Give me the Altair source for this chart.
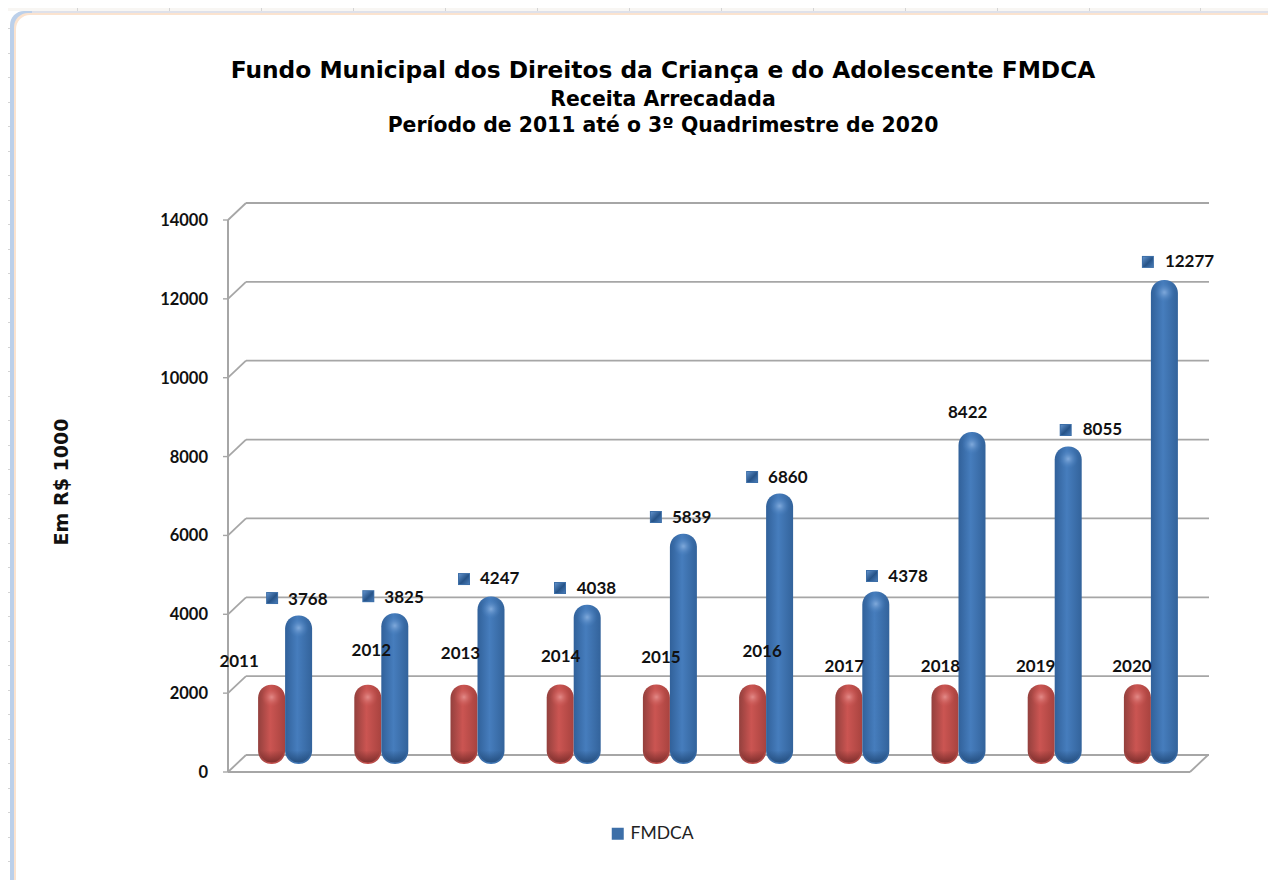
import altair as alt
import pandas as pd

# ---- chart values ----
years = ["2011", "2012", "2013", "2014", "2015", "2016", "2017", "2018", "2019", "2020"]
year_series = [2011, 2012, 2013, 2014, 2015, 2016, 2017, 2018, 2019, 2020]
fmdca = [3768, 3825, 4247, 4038, 5839, 6860, 4378, 8422, 8055, 12277]
y_ticks = [0, 2000, 4000, 6000, 8000, 10000, 12000, 14000]

df = pd.DataFrame({"year": years, "red": year_series, "zero": [0] * 10, "fmdca": fmdca,
                   "series": ["FMDCA"] * 10})
ticks = pd.DataFrame({"v": y_ticks})

# ---- layout: the labels in the original were dragged by hand, so each has its own nudge (px) ----
year_nudge = [(-37, -31), (-1, -42), (-8, -39), (-4, -36), (0, -35), (5, -41),
              (-9, -25), (-9, -25), (-10, -25), (-10, -25)]
value_nudge = [(12, -23), (12, -23), (11.5, -25.5), (12, -24), (11, -24), (11, -23.5),
               (35, -22), (-1.5, -27), (37, -24), (23, -26)]
marker_nudge = [(-4, -25.4), (-4, -25), (-4.5, -25.5), (-4.7, -24.8), (-5, -24.8), (-5, -24.5),
                (18.7, -23.4), None, (20, -24.4), (6, -26)]

W, H = 962, 552
PAD_L, PAD_T = 220, 212
DX, DY = 18, 17          # 3-D depth of the chart box
BAR = 27

x_enc = alt.X("year:N", scale=alt.Scale(paddingInner=0, paddingOuter=0), axis=None)
y_scale = alt.Scale(domain=[0, 14000], nice=False, zero=True)
y_enc = alt.Y("v:Q", scale=y_scale, axis=None)

GRID = "#a6a6a6"
FONT = "Lato"
TITLE_FONT = "DejaVu Sans"

def linear(c0, c1, c2):
    return alt.LinearGradient(gradient="linear", x1=0, x2=1, y1=0, y2=0, stops=[
        alt.GradientStop(offset=0, color=c0),
        alt.GradientStop(offset=0.45, color=c1),
        alt.GradientStop(offset=1, color=c2)])

def radial(inner, outer):
    return alt.RadialGradient(gradient="radial", x1=0.5, y1=0.5, x2=0.5, y2=0.5, r1=0, r2=0.5, stops=[
        alt.GradientStop(offset=0, color=inner),
        alt.GradientStop(offset=1, color=outer)])

def fade_down(clear, dark):
    return alt.LinearGradient(gradient="linear", x1=0, x2=0, y1=0, y2=1, stops=[
        alt.GradientStop(offset=0.5, color=clear),
        alt.GradientStop(offset=1, color=dark)])

# ---- screen decoration: card and the spreadsheet behind it ----
base = alt.Chart(df)
def box(x0, y0, x1, y1, fill, radius=0):
    return alt.Chart(pd.DataFrame({"a": [0]})).mark_rect(fill=fill, cornerRadius=radius).encode(
        x=alt.value(x0 - 8 - PAD_L), x2=alt.value(x1 - 8 - PAD_L),
        y=alt.value(y0 - 8 - PAD_T), y2=alt.value(y1 - 8 - PAD_T))

sheet = [box(8, 8, 1300, 11, "#f8f6f3")]
for yy in [28, 53, 77, 102, 126, 151, 175, 200, 224, 249, 273, 298, 322, 347, 371, 396, 420, 445, 469,
           494, 518, 543, 567, 592, 616, 641, 665, 690, 714, 739, 763, 788, 812, 837, 861]:
    sheet.append(box(8, yy, 14, yy + 1, "#d4d4d4"))
for xx in [77, 169, 261, 353, 445, 537, 629, 721, 813, 905, 997, 1089, 1200]:
    sheet.append(box(xx, 8, xx + 1, 11, "#d4d4d4"))
card = [
    box(10, 11, 1300, 900, "#bcd0ea", 14),
    box(32, 11, 1300, 13, "#dfe1ea"),
    box(14, 13, 1300, 900, "#fbe3cf", 14),
    box(16, 15, 1300, 900, "#ffffff", 14),
]

# ---- 3-D box: grid on back wall, slanted side ----
grid = alt.Chart(ticks).mark_rule(color=GRID, strokeWidth=1.8, yOffset=-DY).encode(
    x=alt.value(DX), x2=alt.value(W + DX + 1), y=y_enc)
slant = alt.Chart(ticks).mark_rule(color=GRID, strokeWidth=1.8, y2Offset=-DY).encode(
    x=alt.value(0), x2=alt.value(DX), y=y_enc, y2="v:Q")
tickm = alt.Chart(ticks).mark_rule(color=GRID, strokeWidth=1.4).encode(
    x=alt.value(-5), x2=alt.value(0), y=y_enc)
front = alt.Chart(pd.DataFrame({"v": [0]})).mark_rule(color=GRID, strokeWidth=2).encode(
    x=alt.value(0), x2=alt.value(W), y=y_enc)
slant_r = alt.Chart(pd.DataFrame({"v": [0]})).mark_rule(color=GRID, strokeWidth=1.8, y2Offset=-DY).encode(
    x=alt.value(W), x2=alt.value(W + DX), y=y_enc, y2="v:Q")
wall = alt.Chart(pd.DataFrame({"v": [0]})).mark_rule(color=GRID, strokeWidth=2).encode(
    x=alt.value(0), y=y_enc, y2=alt.value(0))

# ---- bars ----
def cylinder(field, off, c_edge0, c_mid, c_edge1, c_hi, c_low):
    yq = alt.Y(f"{field}:Q", scale=y_scale, axis=None)
    body = base.mark_bar(size=BAR, cornerRadius=BAR / 2 - 0.5, xOffset=off, yOffset=-8, y2Offset=-8,
                         fill=linear(c_edge0, c_mid, c_edge1)).encode(
        x=x_enc, y=yq, y2="zero:Q")
    hi = base.mark_circle(size=400, xOffset=off, yOffset=-8 + BAR / 2 - 1, opacity=1,
                          fill=radial(c_hi, c_mid + "00")).encode(x=x_enc, y=yq)
    low = base.mark_circle(size=572, xOffset=off, yOffset=-8 - BAR / 2, opacity=1,
                           fill=fade_down(c_low + "00", c_low)).encode(
        x=x_enc, y=alt.Y("zero:Q", scale=y_scale, axis=None))
    return [body, low, hi]

red = cylinder("red", -4.5, "#93403d", "#cb5552", "#a8433f", "#e38c8a", "#7f2f2d")
blue = cylinder("fmdca", 22.5, "#31619a", "#467dbd", "#33639b", "#82abdc", "#254f80")

# ---- data labels, one per year because each sits at its own spot ----
labels = []
legend = alt.Legend(title=None, orient="none", legendX=609 - 8 - PAD_L, legendY=825 - 8 - PAD_T,
                    symbolType="square", symbolSize=144, labelFont=FONT, labelFontSize=17.5,
                    labelColor="#222222", labelOffset=4)
square_fill = alt.LinearGradient(gradient="linear", x1=0, x2=1, y1=0, y2=1, stops=[
    alt.GradientStop(offset=0, color="#6a9ad4"),
    alt.GradientStop(offset=0.55, color="#1f4a7d"),
    alt.GradientStop(offset=1, color="#4a7ebb")])
for i, y in enumerate(years):
    one = base.transform_filter(alt.datum.year == y)
    nx, ny = year_nudge[i]
    labels.append(one.mark_text(font=FONT, fontSize=17, fontWeight=700, color="#111111", align="center",
                                baseline="middle", dx=nx, dy=ny).encode(
        x=x_enc, y=alt.Y("red:Q", scale=y_scale, axis=None), text="red:Q"))
    if marker_nudge[i] is not None:
        mx, my = marker_nudge[i]
        labels.append(one.mark_square(size=144, opacity=1, xOffset=mx, yOffset=my).encode(
            x=x_enc, y=alt.Y("fmdca:Q", scale=y_scale, axis=None),
            color=alt.Color("series:N", scale=alt.Scale(domain=["FMDCA"], range=["#3d6fa8"]),
                            legend=legend)))
        labels.append(one.mark_square(size=100, opacity=0.75, xOffset=mx, yOffset=my,
                                      fill=square_fill).encode(
            x=x_enc, y=alt.Y("fmdca:Q", scale=y_scale, axis=None)))
    vx, vy = value_nudge[i]
    labels.append(one.mark_text(font=FONT, fontSize=17, fontWeight=700, color="#111111", align="left",
                                baseline="middle", dx=vx, dy=vy).encode(
        x=x_enc, y=alt.Y("fmdca:Q", scale=y_scale, axis=None), text="fmdca:Q"))

# ---- axis text ----
axis_lab = alt.Chart(ticks).mark_text(font=FONT, fontSize=16.5, fontWeight=700, color="#111111",
                                      align="right", baseline="middle", dx=-20, dy=1).encode(
    x=alt.value(0), y=y_enc, text="v:Q")
axis_title = alt.Chart(pd.DataFrame({"t": ["Em R$ 1000"]})).mark_text(
    font=TITLE_FONT, fontSize=19, fontWeight="bold", angle=270, color="#111111").encode(
    x=alt.value(62 - 8 - PAD_L), y=alt.value(482 - 8 - PAD_T), text="t:N")

layers = sheet + card + [grid, slant, tickm, wall, front, slant_r] + red + blue + labels + [
    axis_lab, axis_title]

chart = alt.layer(*layers).properties(
    width=W, height=H,
    padding={"left": PAD_L, "top": PAD_T, "right": 78, "bottom": 108},
    autosize=alt.AutoSizeParams(type="none"),
    title=alt.TitleParams(
        text="Fundo Municipal dos Direitos da Criança e do Adolescente FMDCA",
        subtitle=["Receita Arrecadada", "Período de 2011 até o 3º Quadrimestre de 2020"],
        font=TITLE_FONT, fontSize=23.3, fontWeight="bold", color="#000000",
        subtitleFont=TITLE_FONT, subtitleFontSize=20.4, subtitleFontWeight="bold",
        subtitleColor="#000000", subtitleLineHeight=26, subtitlePadding=6,
        anchor="middle", dx=-46, offset=-129),
).configure_view(stroke=None).configure(background="#ffffff")

chart.save("out.html", embed_options={"renderer": "svg", "actions": False})
